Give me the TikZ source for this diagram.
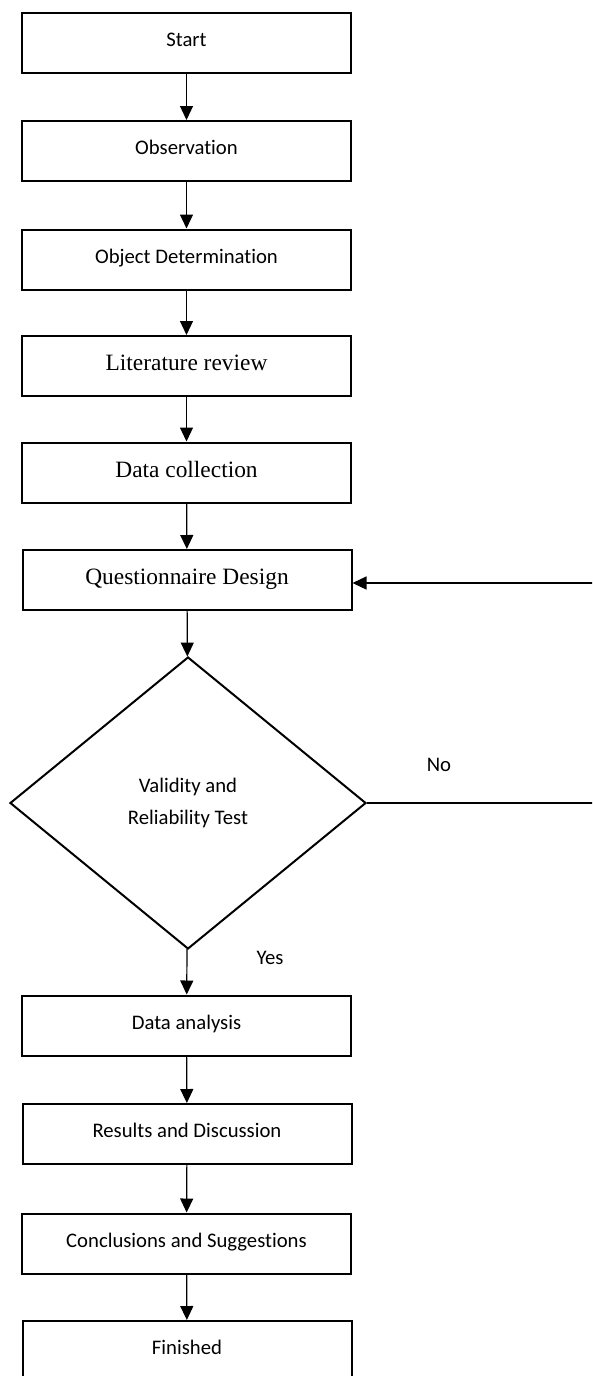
\documentclass[tikz,border=0pt]{standalone}
\usepackage{fontspec}
\newfontfamily\calfont[Ligatures=NoCommon]{Carlito}
\newfontfamily\tnrfont{Liberation Serif}
\usetikzlibrary{arrows.meta,shapes.geometric}
\tikzset{
  stepbox/.style={draw,line width=2pt,minimum width=329pt,minimum height=60pt,inner sep=0pt,
    text height=14pt,text depth=6.6pt,
    font=\calfont\fontsize{20.7}{25}\selectfont},
  serifbox/.style={stepbox,text height=16pt,text depth=6.6pt,font=\tnrfont\fontsize{23.4}{28}\selectfont},
  decision/.style={diamond,draw,line width=2pt,minimum width=356pt,minimum height=292pt,inner sep=0pt,
    align=center,font=\calfont\fontsize{20.7}{32}\selectfont},
  arr/.style={line width=1.2pt,-{Triangle[width=13pt,length=14pt]}},
  lbl/.style={font=\calfont\fontsize{20.7}{25}\selectfont,inner sep=0pt}
}
\begin{document}
\begin{tikzpicture}[x=1pt,y=-1pt]
\useasboundingbox (0,0) rectangle (592,1376);
\clip (0,0) rectangle (592,1376);
\fill[white] (0,0) rectangle (592,1376);
\node[stepbox] (s)  at (186.5,43)  {Start};
\node[stepbox] (o)  at (186.5,151) {Observation};
\node[stepbox] (od) at (186.5,259.5) {Object Determination};
\node[serifbox] (lr) at (186.5,366) {Literature review};
\node[serifbox] (dc) at (186.5,472.5) {Data collection};
\node[serifbox] (q)  at (187,580) {Questionnaire Design};
\node[decision] (d) at (188,803) {Validity and\\Reliability Test};
\node[stepbox] (da) at (186.5,1025.5) {Data analysis};
\node[stepbox] (rd) at (187,1134) {Results and Discussion};
\node[stepbox] (cs) at (186.5,1243.5) {Conclusions and Suggestions};
\node[stepbox] (f) at (187,1351) {Finished};
\node[lbl] (no) at (439,765) {No};
\node[lbl] (yes) at (270,958) {Yes};
\coordinate (r1) at (600,803);
\coordinate (r2) at (600,583);
\draw[arr] (s) -- (o);
\draw[arr] (o) -- (od);
\draw[arr] (od) -- (lr);
\draw[arr] (lr) -- (dc);
\draw[arr] (dc) -- (q);
\draw[arr] (q) -- (d);
\draw[arr] (d) -- (da);
\draw[arr] (da) -- (rd);
\draw[arr] (rd) -- (cs);
\draw[arr] (cs) -- (f);
\draw[arr] (d.east) -- (r1) -- (r2) -- (q.east |- r2);
\end{tikzpicture}
\end{document}
